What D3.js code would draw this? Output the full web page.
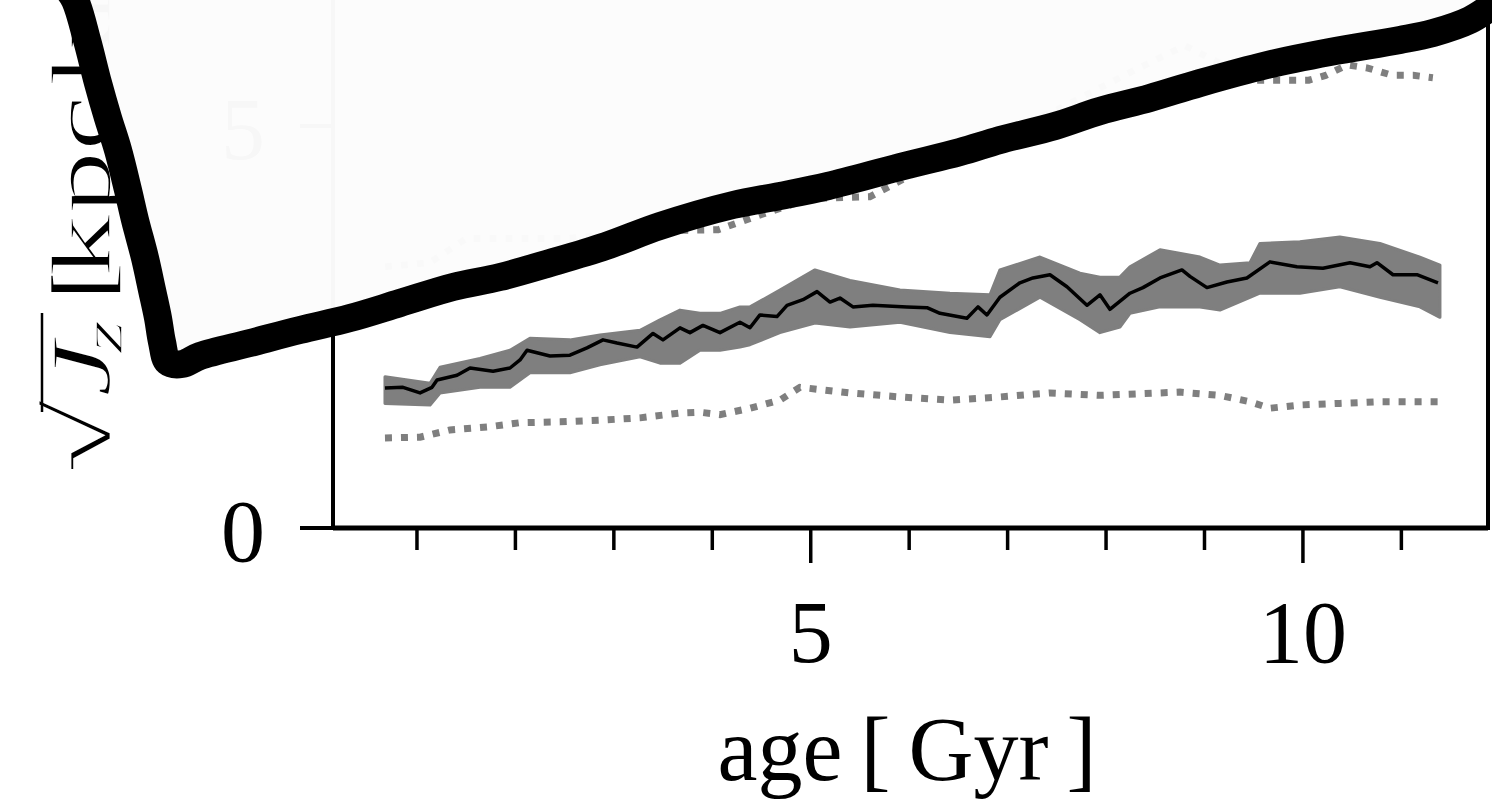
<!DOCTYPE html>
<html><head><meta charset="utf-8">
<script src="https://cdn.jsdelivr.net/npm/d3@7"></script>
<style>html,body{margin:0;padding:0;background:#fff;overflow:hidden}</style>
</head><body>
<svg id="c" width="1492" height="802"></svg>
<script>
// ---- data ----
const medianAge = [0.675,0.858,1.031,1.153,1.204,1.407,1.539,1.773,1.945,2.047,2.118,2.351,2.554,2.727,2.89,3.032,3.235,3.398,3.499,3.672,3.773,3.905,4.078,4.281,4.383,4.484,4.657,4.759,4.921,5.064,5.196,5.297,5.429,5.632,5.977,6.181,6.313,6.587,6.699,6.79,6.922,7.125,7.257,7.43,7.603,7.806,7.938,8.039,8.243,8.375,8.548,8.771,8.852,9.025,9.228,9.431,9.665,9.939,10.203,10.478,10.681,10.752,10.915,11.158,11.372];
const medianVal = [1.74,1.75,1.68,1.75,1.84,1.90,1.99,1.95,1.99,2.09,2.21,2.14,2.15,2.24,2.34,2.30,2.25,2.42,2.34,2.49,2.43,2.52,2.43,2.56,2.49,2.65,2.63,2.77,2.84,2.94,2.81,2.86,2.75,2.77,2.75,2.74,2.67,2.61,2.75,2.65,2.87,3.05,3.11,3.15,3.00,2.77,2.90,2.72,2.92,2.99,3.11,3.21,3.13,2.99,3.06,3.11,3.31,3.25,3.23,3.30,3.25,3.30,3.15,3.15,3.05];

const bandAge  = [0.675,1.133,1.234,1.64,1.945,2.148,2.554,2.859,3.266,3.469,3.672,3.875,4.078,4.281,4.383,4.687,5.043,5.399,5.907,6.415,6.821,6.922,7.329,7.735,7.938,8.141,8.243,8.548,8.954,9.157,9.462,9.563,9.969,10.375,10.782,11.188,11.392];
const bandHigh = [1.88,1.80,2.00,2.11,2.21,2.36,2.34,2.40,2.46,2.59,2.71,2.67,2.67,2.75,2.75,2.96,3.21,3.08,2.96,2.92,2.90,3.21,3.37,3.17,3.12,3.12,3.25,3.46,3.37,3.27,3.30,3.54,3.56,3.62,3.54,3.37,3.27];
const bandLow  = [1.55,1.53,1.68,1.75,1.75,1.93,1.93,2.03,2.13,2.05,2.05,2.21,2.21,2.25,2.28,2.43,2.55,2.50,2.56,2.43,2.38,2.59,2.87,2.59,2.43,2.50,2.67,2.75,2.75,2.71,2.87,2.92,2.92,3.00,2.87,2.75,2.62];

const lowerAge = [0.675,1.031,1.336,1.742,2.047,2.453,2.859,3.266,3.672,3.875,4.078,4.383,4.687,4.89,5.399,5.907,6.415,6.922,7.43,7.938,8.751,9.157,9.462,9.665,9.969,10.375,10.782,11.37];
const lowerVal = [1.12,1.13,1.22,1.26,1.31,1.32,1.34,1.37,1.43,1.44,1.41,1.49,1.59,1.75,1.68,1.63,1.59,1.63,1.68,1.65,1.69,1.65,1.57,1.49,1.53,1.55,1.57,1.57];

const upperAge = [0.675,1.13,1.5,2.5,3.5,4.06,4.5,5.0,5.6,6.5,7.5,8.3,8.8,9.5,10.06,10.23,10.45,10.66,10.91,11.12,11.32];
const upperVal = [3.25,3.30,3.60,3.60,3.70,3.71,3.90,4.10,4.12,4.70,5.20,5.70,6.00,5.57,5.57,5.63,5.76,5.72,5.63,5.63,5.60];

const xMinorTicks = [1,2,3,4,6,7,8,9,11];
const xMajorTicks = [5,10];
const xTickLabels = ["5","10"];
const yTicks = [0,5];
const yTickLabels = ["0","5"];

// ---- layout ----
const svg = d3.select("#c");
const x = d3.scaleLinear().domain([0.147, 11.88]).range([333, 1488]);
const y = d3.scaleLinear().domain([0, 5]).range([528, 126]);
const FONT = "'Liberation Serif', 'DejaVu Serif', serif";
const GRAY = "#7f7f7f";

const chart = svg.append("g");

// band
const band = bandAge.map((a,i)=>({a, lo:bandLow[i], hi:bandHigh[i]}));
chart.append("path").datum(band)
  .attr("d", d3.area().x(d=>x(d.a)).y0(d=>y(d.lo)).y1(d=>y(d.hi)).curve(d3.curveLinear))
  .attr("fill", GRAY).attr("stroke", GRAY).attr("stroke-width", 3).attr("stroke-linejoin","round");

// dotted lines
const dotted = (ages, vals) => chart.append("path")
  .datum(ages.map((a,i)=>[a, vals[i]]))
  .attr("d", d3.line().x(d=>x(d[0])).y(d=>y(d[1])))
  .attr("fill","none").attr("stroke", GRAY).attr("stroke-width", 7)
  .attr("stroke-dasharray","7 9");
dotted(lowerAge, lowerVal);
dotted(upperAge, upperVal);

// median
chart.append("path").datum(medianAge.map((a,i)=>[a, medianVal[i]]))
  .attr("d", d3.line().x(d=>x(d[0])).y(d=>y(d[1])))
  .attr("fill","none").attr("stroke","#000").attr("stroke-width",3.5).attr("stroke-linejoin","round");

// axes frame
const ax = chart.append("g").attr("stroke","#000");
ax.append("line").attr("x1", x.range()[0]).attr("x2", x.range()[1]).attr("y1", y(0)).attr("y2", y(0)).attr("stroke-width",5);
ax.append("line").attr("x1", x.range()[0]).attr("x2", x.range()[0]).attr("y1", y(0)+2).attr("y2", -10).attr("stroke-width",4);
ax.append("line").attr("x1", x.range()[1]).attr("x2", x.range()[1]).attr("y1", y(0)+2).attr("y2", -10).attr("stroke-width",4);
xMinorTicks.forEach(t => ax.append("line").attr("x1",x(t)).attr("x2",x(t)).attr("y1",y(0)).attr("y2",y(0)+22).attr("stroke-width",3.5));
xMajorTicks.forEach(t => ax.append("line").attr("x1",x(t)).attr("x2",x(t)).attr("y1",y(0)).attr("y2",y(0)+35).attr("stroke-width",3.5));
yTicks.forEach(t => ax.append("line").attr("x1",x.range()[0]-33).attr("x2",x.range()[0]).attr("y1",y(t)).attr("y2",y(t)).attr("stroke-width",4));

const tl = chart.append("g").attr("font-family",FONT).attr("font-size",88).attr("fill","#000").attr("text-anchor","middle");
xMajorTicks.forEach((t,i)=> tl.append("text").attr("x",x(t)).attr("y",662).text(xTickLabels[i]));
yTicks.forEach((t,i)=> tl.append("text").attr("x",243).attr("y",y(t)+33).text(yTickLabels[i]));

chart.append("text").attr("x",907).attr("y",780).attr("text-anchor","middle")
  .attr("font-family",FONT).attr("font-size",90).text("age\u2009[\u2009Gyr\u2009]");

// y label
const yg = chart.append("g").attr("transform","translate(110,478) rotate(-90) scale(1.5,1)");
const yt = yg.append("text").attr("font-family",FONT).attr("font-size",84).attr("fill","#000")
  .attr("stroke","#fff").attr("stroke-width",1.6);
yt.append("tspan").attr("x",3).attr("font-size",90).text("\u221A");
yt.append("tspan").attr("x",54).attr("font-style","italic").text("J");
yt.append("tspan").attr("x",83).attr("dy",12).attr("font-style","italic").attr("font-size",58).text("z");
yt.append("tspan").attr("x",117).attr("dy",-12).text("[");
yt.append("tspan").attr("x",134).text("kpc");
yt.append("tspan").attr("x",261).text("km\u2009s");
yt.append("tspan").attr("dy",-30).attr("font-size",58).text("\u22121");
yt.append("tspan").attr("dy",30).text("\u2009]");
yg.append("line").attr("x1",44).attr("x2",110).attr("y1",-68).attr("y2",-68).attr("stroke","#000").attr("stroke-width",2.5);

// ---- overlaid sheet with thick hand-drawn border ----
const sheet = [[40,-80],[62,-20],[75,0],[87,40],[98,83],[108,118],[118,150],[128,190],[135,220],[145,258],[152,290],[158,318],[162,342],[168,362],[182,364],[200,356],[250,343],[300,330],[350,318],[400,303],[453,287],[500,277],[550,263],[606,246],[660,226],[733,205],[780,196],[828,186],[900,167],[960,152],[1000,140],[1055,126],[1100,111],[1150,98],[1200,83],[1267,65],[1330,52],[1400,40],[1433,33],[1470,20],[1492,6],[1540,-30],[1540,-80]];
svg.append("path").datum(sheet)
  .attr("d", d3.line().curve(d3.curveCatmullRomClosed.alpha(0.5)))
  .attr("fill","#fcfcfc").attr("fill-opacity",0.982)
  .attr("stroke","#000").attr("stroke-width",28).attr("stroke-linejoin","round").attr("stroke-linecap","round");
</script>
</body></html>
